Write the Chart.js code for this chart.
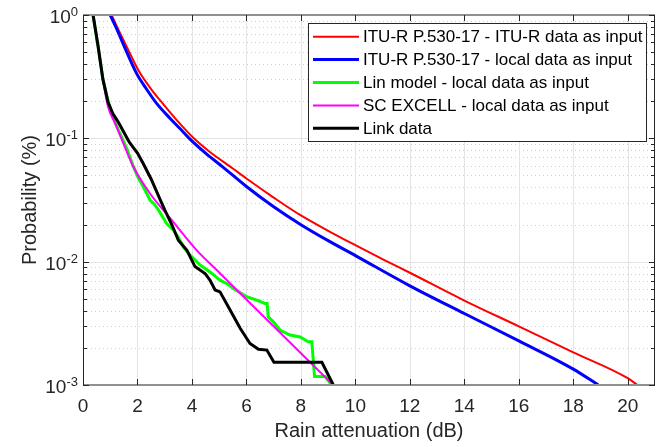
<!DOCTYPE html>
<html>
<head>
<meta charset="utf-8">
<script src="https://cdn.jsdelivr.net/npm/chart.js@4/dist/chart.umd.min.js"></script>
<style>
  body { margin: 0; background: #fff; }
  canvas { display: block; }
</style>
</head>
<body>
<canvas id="chart" width="660" height="447"></canvas>
<script>
// series: attenuation (dB) vs probability (%)
var ituX = [1.05, 1.3, 1.55, 2.05, 2.5, 2.9, 3.5, 4.05, 4.6, 5.5, 6.0, 7.0, 8.0, 9.0, 10.0, 11.1, 12.0, 14.0, 16.0, 18.0, 20.0, 20.35];
var ituY = [1, 0.76, 0.586, 0.351, 0.251, 0.195, 0.136, 0.101, 0.0794, 0.0569, 0.0472, 0.0331, 0.0237, 0.0178, 0.0136, 0.0102, 0.00813, 0.00484, 0.00299, 0.00184, 0.001135, 0.001];

var localX = [1.0, 1.25, 1.47, 1.97, 2.3, 2.71, 3.2, 3.56, 3.9, 4.5, 5.15, 6.0, 7.0, 8.0, 9.0, 10.0, 12.0, 14.0, 16.0, 18.0, 18.92];
var localY = [1, 0.76, 0.586, 0.335, 0.257, 0.191, 0.145, 0.12, 0.1, 0.0759, 0.0582, 0.0407, 0.0279, 0.01995, 0.0148, 0.0112, 0.00637, 0.0038, 0.00228, 0.001346, 0.001];

var linX = [0.37, 0.55, 0.73, 0.92, 0.99, 1.1, 1.35, 1.6, 1.85, 2.03, 2.2, 2.46, 2.6, 2.77, 3.07, 3.32, 3.5, 3.68, 3.95, 4.3, 4.66, 5.03, 5.3, 5.52, 6.01, 6.38, 6.68, 6.76, 6.8, 6.99, 7.23, 7.6, 7.97, 8.27, 8.4, 8.46, 8.5, 8.89, 9.13];
var linY = [1, 0.562, 0.302, 0.2, 0.18, 0.149, 0.11, 0.0832, 0.0589, 0.0479, 0.041, 0.0316, 0.0295, 0.0263, 0.0204, 0.018, 0.0158, 0.0132, 0.0112, 0.00938, 0.00826, 0.00708, 0.0066, 0.00607, 0.00519, 0.00488, 0.00458, 0.00458, 0.00357, 0.00325, 0.00279, 0.00254, 0.00245, 0.00224, 0.00224, 0.00154, 0.00117, 0.00117, 0.001];

var scX = [0.37, 0.55, 0.73, 0.92, 1.16, 1.5, 1.85, 2.46, 3.26, 4.17, 5.0, 6.0, 7.0, 8.0, 9.19];
var scY = [1, 0.562, 0.302, 0.18, 0.135, 0.0891, 0.0589, 0.0357, 0.0217, 0.0124, 0.00817, 0.00493, 0.00299, 0.00181, 0.001];

var linkX = [0.37, 0.55, 0.73, 0.92, 1.1, 1.3, 1.5, 1.7, 2.0, 2.21, 2.5, 2.8, 3.0, 3.26, 3.5, 3.81, 3.93, 4.11, 4.48, 4.66, 4.85, 5.03, 5.4, 5.77, 6.13, 6.44, 6.75, 7.01, 8.77, 9.19];
var linkY = [1, 0.565, 0.302, 0.196, 0.158, 0.135, 0.112, 0.093, 0.0759, 0.0625, 0.0468, 0.0330, 0.0263, 0.02, 0.0149, 0.0124, 0.011, 0.00912, 0.00802, 0.00708, 0.00589, 0.00569, 0.00405, 0.00288, 0.00217, 0.00195, 0.00192, 0.00153, 0.00153, 0.001];

var labels = [
  'ITU-R P.530-17 - ITU-R data as input',
  'ITU-R P.530-17 - local data as input',
  'Lin model - local data as input',
  'SC EXCELL - local data as input',
  'Link data'
];

var xTicks = [0, 2, 4, 6, 8, 10, 12, 14, 16, 18, 20];
var yTickExp = [0, -1, -2, -3];

function pts(xs, ys) {
  return xs.map(function(x, i) { return { x: x, y: ys[i] }; });
}

var axisColor = '#262626';
var fontFam = '"Liberation Sans", Arial, Helvetica, sans-serif';

var decorPlugin = {
  id: 'decor',
  beforeDatasetsDraw: function(chart) {
    var ctx = chart.ctx, a = chart.chartArea;
    var xs = chart.scales.x, ys = chart.scales.y;
    ctx.save();
    // minor y grid (dotted)
    ctx.strokeStyle = '#cdcdcd';
    ctx.lineWidth = 1;
    ctx.setLineDash([1, 3]);
    for (var d = -3; d < 0; d++) {
      for (var m = 2; m <= 9; m++) {
        var py = Math.round(ys.getPixelForValue(m * Math.pow(10, d))) + 0.5;
        ctx.beginPath(); ctx.moveTo(a.left, py); ctx.lineTo(a.right, py); ctx.stroke();
      }
    }
    ctx.setLineDash([]);
    // major grid
    ctx.strokeStyle = '#e3e3e3';
    xTicks.forEach(function(t) {
      var px = Math.round(xs.getPixelForValue(t)) + 0.5;
      ctx.beginPath(); ctx.moveTo(px, a.top); ctx.lineTo(px, a.bottom); ctx.stroke();
    });
    yTickExp.forEach(function(e) {
      var py = Math.round(ys.getPixelForValue(Math.pow(10, e))) + 0.5;
      ctx.beginPath(); ctx.moveTo(a.left, py); ctx.lineTo(a.right, py); ctx.stroke();
    });
    ctx.restore();
  },
  afterDatasetsDraw: function(chart) {
    var ctx = chart.ctx, a = chart.chartArea;
    var xs = chart.scales.x, ys = chart.scales.y;
    ctx.save();
    // box
    ctx.strokeStyle = '#909090';
    ctx.lineWidth = 2;
    ctx.beginPath();
    ctx.moveTo(a.left, a.top); ctx.lineTo(a.right, a.top);
    ctx.moveTo(a.left, a.bottom); ctx.lineTo(a.right, a.bottom);
    ctx.stroke();
    ctx.strokeStyle = axisColor;
    ctx.lineWidth = 1;
    ctx.beginPath();
    ctx.moveTo(a.left + 0.5, a.top); ctx.lineTo(a.left + 0.5, a.bottom);
    ctx.moveTo(a.right - 0.5, a.top); ctx.lineTo(a.right - 0.5, a.bottom);
    ctx.stroke();
    // x ticks
    ctx.beginPath();
    xTicks.forEach(function(t) {
      var px = Math.round(xs.getPixelForValue(t)) + 0.5;
      ctx.moveTo(px, a.bottom); ctx.lineTo(px, a.bottom - 6);
      ctx.moveTo(px, a.top); ctx.lineTo(px, a.top + 6);
    });
    // y ticks
    for (var d = -3; d <= 0; d++) {
      var py = Math.round(ys.getPixelForValue(Math.pow(10, d))) + 0.5;
      ctx.moveTo(a.left, py); ctx.lineTo(a.left + 6, py);
      ctx.moveTo(a.right, py); ctx.lineTo(a.right - 6, py);
      if (d < 0) {
        for (var m = 2; m <= 9; m++) {
          var pm = Math.round(ys.getPixelForValue(m * Math.pow(10, d))) + 0.5;
          ctx.moveTo(a.left, pm); ctx.lineTo(a.left + 4, pm);
          ctx.moveTo(a.right, pm); ctx.lineTo(a.right - 4, pm);
        }
      }
    }
    ctx.stroke();

    // tick labels
    ctx.fillStyle = axisColor;
    ctx.font = '19px ' + fontFam;
    ctx.textAlign = 'center';
    ctx.textBaseline = 'alphabetic';
    xTicks.forEach(function(t) {
      ctx.fillText(String(t), xs.getPixelForValue(t), 412);
    });
    yTickExp.forEach(function(e) {
      var py = ys.getPixelForValue(Math.pow(10, e));
      var sup = String(e);
      ctx.font = '13px ' + fontFam;
      var sw = ctx.measureText(sup).width;
      ctx.textAlign = 'right';
      ctx.fillText(sup, 78, py + 1);
      ctx.font = '19px ' + fontFam;
      ctx.fillText('10', 78 - sw, py + 8);
    });

    // axis titles
    ctx.font = '20px ' + fontFam;
    ctx.textAlign = 'center';
    ctx.fillText('Rain attenuation (dB)', (a.left + a.right) / 2, 437);
    ctx.save();
    ctx.translate(36, (a.top + a.bottom) / 2);
    ctx.rotate(-Math.PI / 2);
    ctx.fillText('Probability (%)', 0, 0);
    ctx.restore();

    // legend
    var lx = 308, ly = 23, lw = 338, lh = 118;
    ctx.fillStyle = '#fff';
    ctx.fillRect(lx, ly, lw, lh);
    ctx.strokeStyle = axisColor;
    ctx.lineWidth = 1;
    ctx.strokeRect(lx + 0.5, ly + 0.5, lw, lh);
    ctx.font = '17px ' + fontFam;
    ctx.textAlign = 'left';
    ctx.textBaseline = 'middle';
    chart.data.datasets.forEach(function(ds, i) {
      var yy = 36.7 + i * 22.9;
      ctx.strokeStyle = ds.borderColor;
      ctx.lineWidth = ds.borderWidth;
      ctx.beginPath(); ctx.moveTo(313, yy); ctx.lineTo(359, yy); ctx.stroke();
      ctx.fillStyle = '#000';
      ctx.fillText(ds.label, 363, yy + 1);
    });
    ctx.restore();
  }
};

new Chart(document.getElementById('chart'), {
  type: 'line',
  data: {
    datasets: [
      { label: labels[0], data: pts(ituX, ituY), borderColor: '#ff0000', borderWidth: 2, order: 5, cubicInterpolationMode: 'monotone' },
      { label: labels[1], data: pts(localX, localY), borderColor: '#0000ff', borderWidth: 3, order: 4, cubicInterpolationMode: 'monotone' },
      { label: labels[2], data: pts(linX, linY), borderColor: '#00ff00', borderWidth: 3, order: 3 },
      { label: labels[3], data: pts(scX, scY), borderColor: '#ff00ff', borderWidth: 2, order: 2, cubicInterpolationMode: 'monotone' },
      { label: labels[4], data: pts(linkX, linkY), borderColor: '#000000', borderWidth: 3, order: 1 }
    ]
  },
  options: {
    responsive: false,
    animation: false,
    devicePixelRatio: 1,
    layout: { padding: { left: 83, right: 5, top: 15, bottom: 62 } },
    elements: { point: { radius: 0 }, line: { tension: 0, fill: false } },
    scales: {
      x: { type: 'linear', min: 0, max: 21, display: false },
      y: { type: 'logarithmic', min: 0.001, max: 1, display: false }
    },
    plugins: { legend: { display: false }, tooltip: { enabled: false } }
  },
  plugins: [decorPlugin]
});
</script>
</body>
</html>
